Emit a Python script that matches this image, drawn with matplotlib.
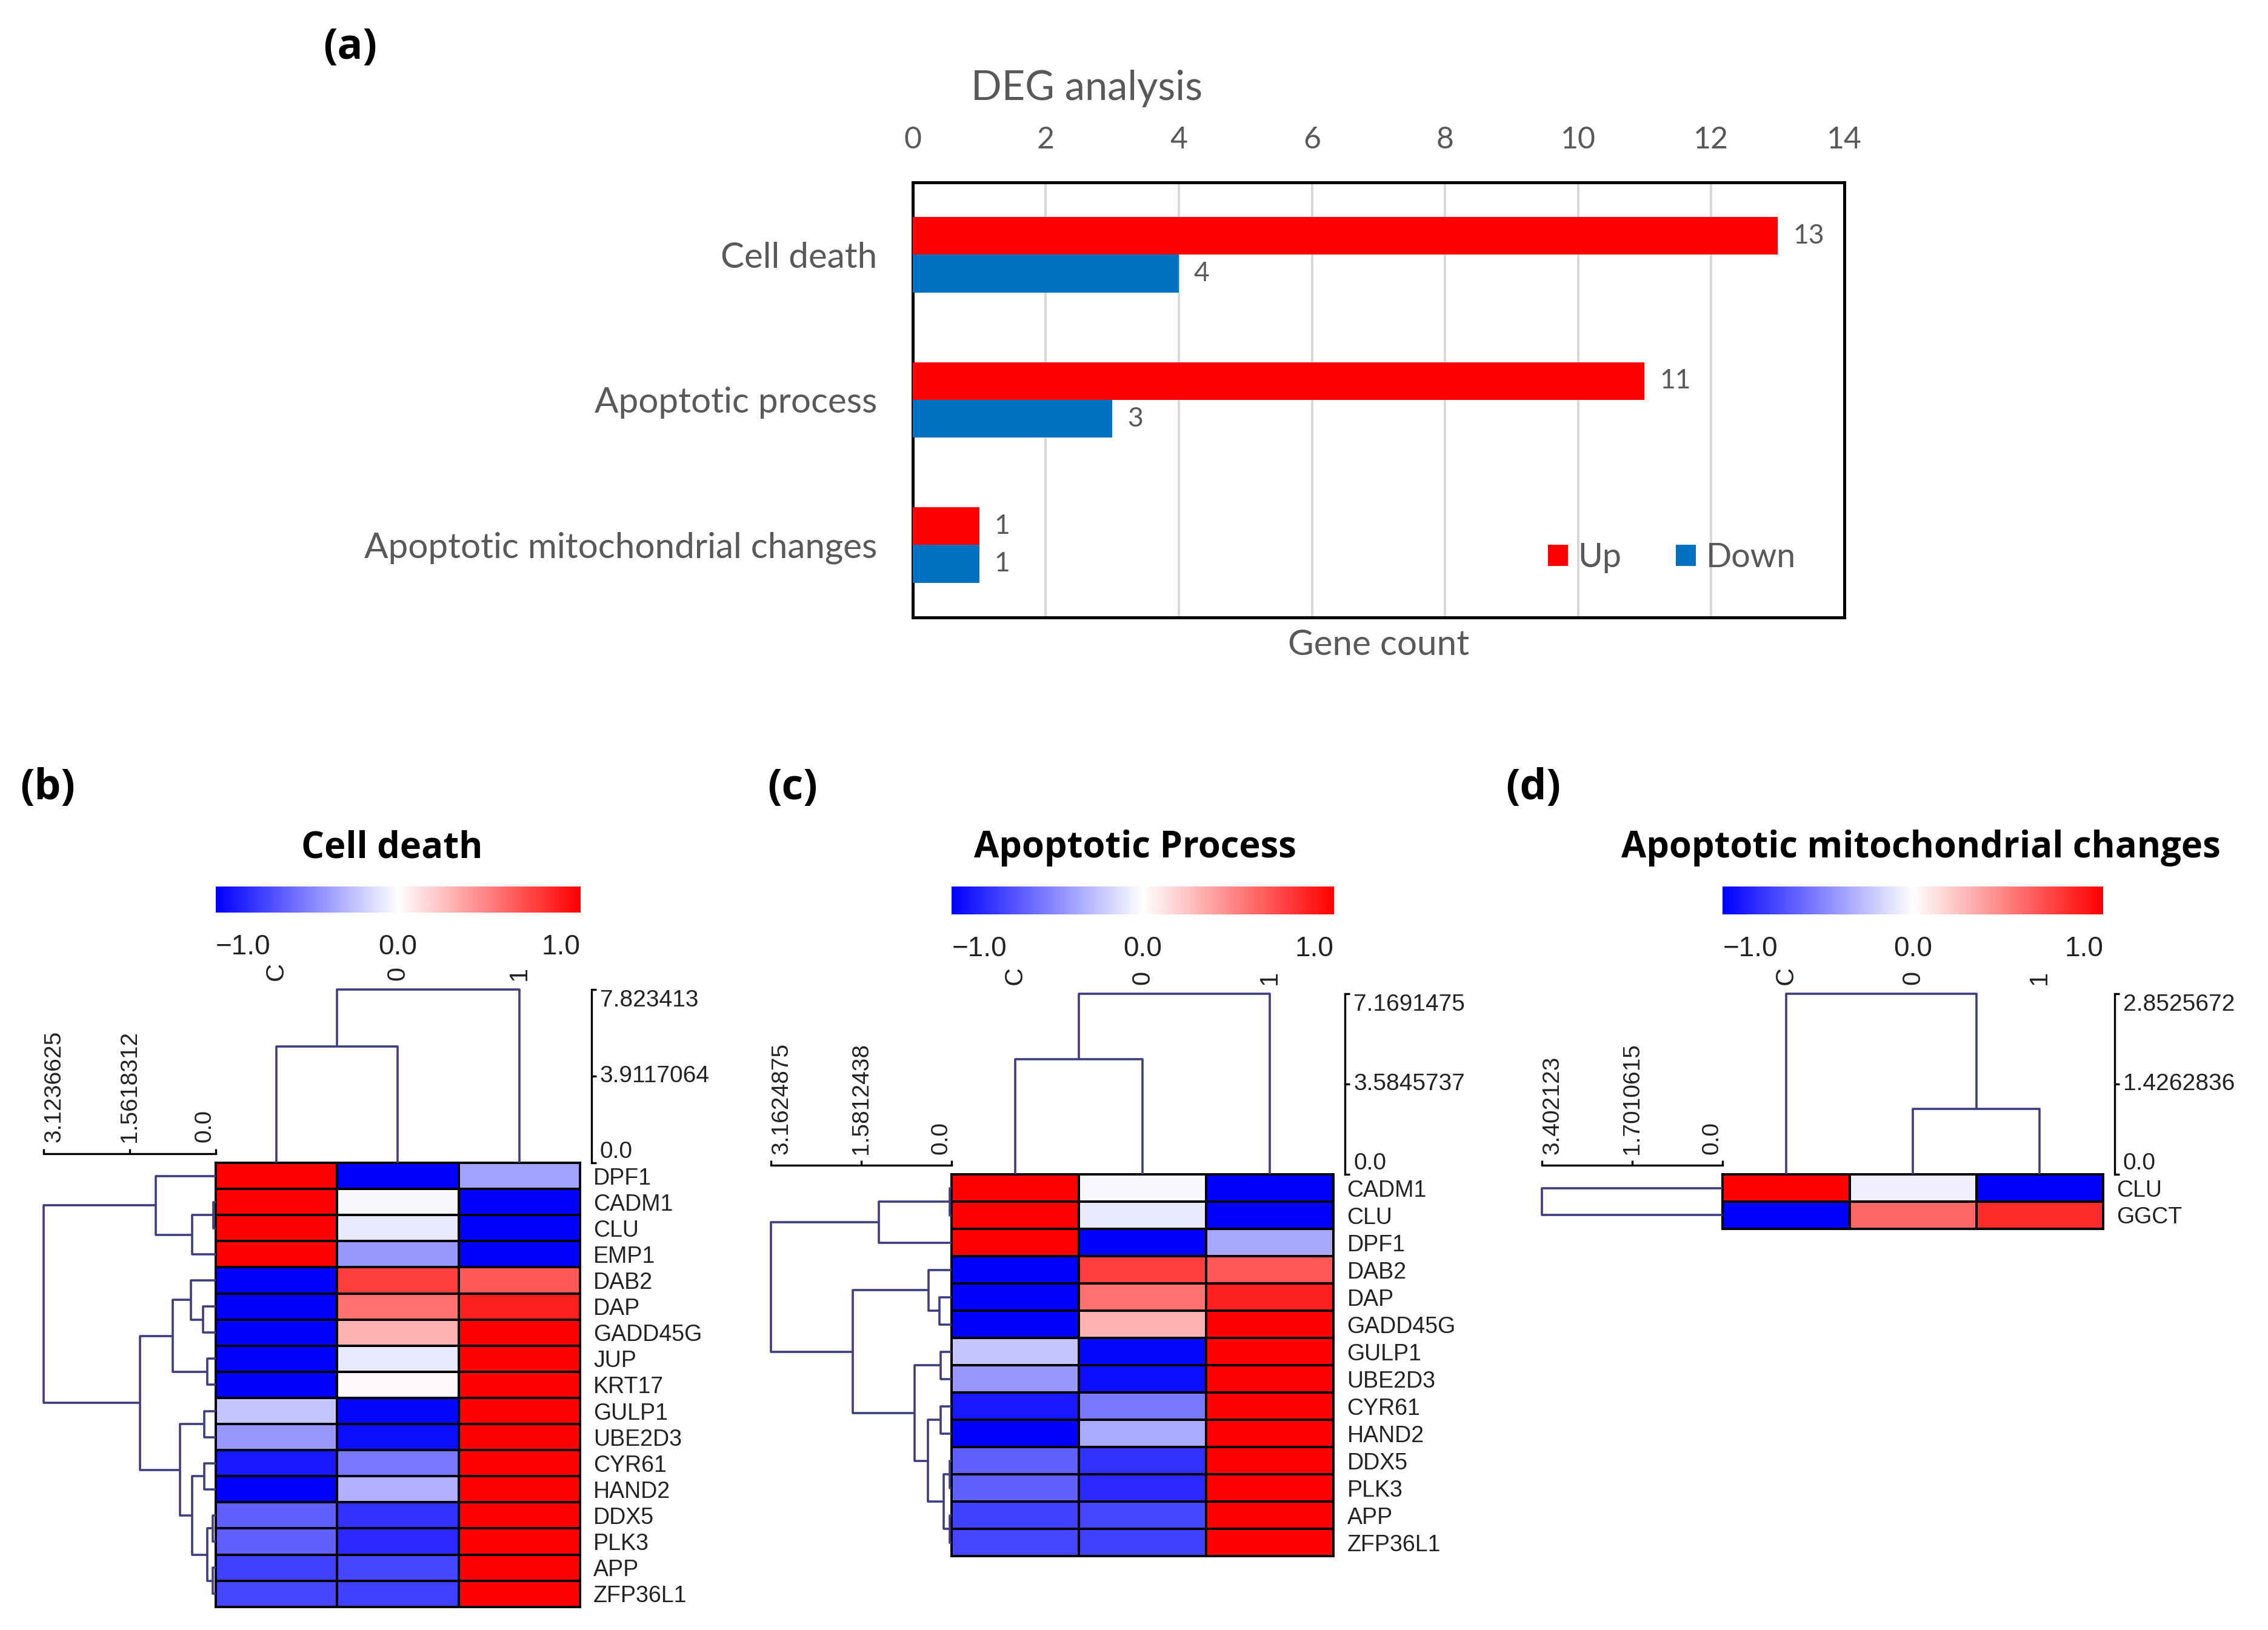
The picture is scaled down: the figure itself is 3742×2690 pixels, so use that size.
import numpy as np
import matplotlib
matplotlib.use("Agg")
import matplotlib.pyplot as plt
from matplotlib import font_manager
from matplotlib.colors import LinearSegmentedColormap
from matplotlib.transforms import blended_transform_factory

# ---------------- data ----------------
categories = ["Cell death", "Apoptotic process", "Apoptotic mitochondrial changes"]
up_counts = [13, 11, 1]
down_counts = [4, 3, 1]

samples = ["C", "0", "1"]

genes_b = ["DPF1", "CADM1", "CLU", "EMP1", "DAB2", "DAP", "GADD45G", "JUP", "KRT17",
           "GULP1", "UBE2D3", "CYR61", "HAND2", "DDX5", "PLK3", "APP", "ZFP36L1"]
values_b = [
    [1.0, -1.0, -0.36],
    [1.0, -0.03, -1.0],
    [1.0, -0.09, -1.0],
    [1.0, -0.40, -1.0],
    [-1.0, 0.75, 0.65],
    [-1.0, 0.56, 0.87],
    [-1.0, 0.31, 1.0],
    [-1.0, -0.09, 1.0],
    [-1.0, 0.02, 1.0],
    [-0.22, -0.97, 1.0],
    [-0.40, -0.95, 1.0],
    [-0.90, -0.53, 1.0],
    [-1.0, -0.31, 1.0],
    [-0.62, -0.81, 1.0],
    [-0.62, -0.84, 1.0],
    [-0.75, -0.72, 1.0],
    [-0.72, -0.75, 1.0],
]
row_tree_b = (("DPF1", (("CADM1", "CLU", 0.044), "EMP1", 0.42), 1.082),
              ((("DAB2", ("DAP", "GADD45G", 0.227), 0.447), ("JUP", "KRT17", 0.147), 0.777),
               (("GULP1", "UBE2D3", 0.2),
                (("CYR61", "HAND2", 0.2),
                 (("DDX5", "PLK3", 0.05), ("APP", "ZFP36L1", 0.05), 0.147), 0.42), 0.649), 1.375),
              3.1236625)
col_tree_b = (("C", "0", 5.24), "1", 7.823413)
row_scale_b = ["3.1236625", "1.5618312", "0.0"]
col_scale_b = ["0.0", "3.9117064", "7.823413"]

genes_c = ["CADM1", "CLU", "DPF1", "DAB2", "DAP", "GADD45G", "GULP1", "UBE2D3",
           "CYR61", "HAND2", "DDX5", "PLK3", "APP", "ZFP36L1"]
values_c = [
    [1.0, -0.03, -1.0],
    [1.0, -0.08, -1.0],
    [1.0, -1.0, -0.34],
    [-1.0, 0.75, 0.65],
    [-1.0, 0.56, 0.87],
    [-1.0, 0.31, 1.0],
    [-0.22, -0.97, 1.0],
    [-0.40, -0.95, 1.0],
    [-0.90, -0.53, 1.0],
    [-1.0, -0.33, 1.0],
    [-0.62, -0.81, 1.0],
    [-0.62, -0.84, 1.0],
    [-0.75, -0.72, 1.0],
    [-0.72, -0.75, 1.0],
]
row_tree_c = ((("CADM1", "CLU", 0.03), "DPF1", 1.28),
              (("DAB2", ("DAP", "GADD45G", 0.218), 0.41),
               (("GULP1", "UBE2D3", 0.197),
                (("CYR61", "HAND2", 0.197),
                 (("DDX5", "PLK3", 0.03), ("APP", "ZFP36L1", 0.03), 0.136), 0.42), 0.647), 1.726),
              3.1624875)
col_tree_c = (("C", "0", 4.58), "1", 7.1691475)
row_scale_c = ["3.1624875", "1.5812438", "0.0"]
col_scale_c = ["0.0", "3.5845737", "7.1691475"]

genes_d = ["CLU", "GGCT"]
values_d = [
    [1.0, -0.07, -1.0],
    [-1.0, 0.60, 0.83],
]
row_tree_d = ("CLU", "GGCT", 3.402123)
col_tree_d = ("C", ("0", "1", 1.03), 2.8525672)
row_scale_d = ["3.402123", "1.7010615", "0.0"]
col_scale_d = ["0.0", "1.4262836", "2.8525672"]

# ---------------- fonts / style ----------------
installed = {f.name for f in font_manager.fontManager.ttflist}


def pick(*names):
    for n in names:
        if n in installed:
            return n
    return "DejaVu Sans"


FONT_A = pick("Lato", "Noto Sans")
FONT_BOLD = pick("Open Sans", "Noto Sans")
FONT_NARROW = pick("Liberation Sans Narrow", "Liberation Sans")
FONT_CB = pick("Liberation Sans", "DejaVu Sans")
GRAY = "#595959"
DENDRO = "#3d3d80"

cmap = LinearSegmentedColormap.from_list("bwr_pure", ["#0000ff", "#ffffff", "#ff0000"])

W, H = 1568, 1127  # layout grid of the reference picture


def box(x0, y0, x1, y1):
    return [x0 / W, 1 - y1 / H, (x1 - x0) / W, (y1 - y0) / H]


fig = plt.figure(figsize=(18.71, 13.45), dpi=200)

# ---------------- (a) bar chart ----------------
ax = fig.add_axes(box(631, 126, 1275, 427))
y = np.arange(len(categories))
bh = 0.26
b_up = ax.barh(y - bh / 2, up_counts, height=bh, color="#ff0000", label="Up", zorder=3)
b_dn = ax.barh(y + bh / 2, down_counts, height=bh, color="#0070c0", label="Down", zorder=3)
ax.set_xlim(0, 14)
ax.set_ylim(2.5, -0.5)
ax.set_xticks(range(0, 15, 2))
ax.xaxis.tick_top()
ax.tick_params(axis="x", length=0, pad=17, labelsize=18, labelcolor=GRAY)
ax.set_yticks(y, categories)
ax.tick_params(axis="y", length=0, pad=21, labelsize=21, labelcolor=GRAY)
for lab in ax.get_xticklabels() + ax.get_yticklabels():
    lab.set_fontfamily(FONT_A)
ax.grid(axis="x", color="#d9d9d9", lw=1.4, zorder=0)
ax.set_axisbelow(True)
for sp in ax.spines.values():
    sp.set_linewidth(1.8)
    sp.set_color("black")
for bars, vals, yy in ((b_up, up_counts, y - bh / 2), (b_dn, down_counts, y + bh / 2)):
    for v, yc in zip(vals, yy):
        ax.annotate(str(v), (v, yc), xytext=(9, 0), textcoords="offset points",
                    va="center", ha="left", fontsize=16, color=GRAY, family=FONT_A)
leg = ax.legend(loc="center", bbox_to_anchor=(0.815, 0.137), ncol=2, frameon=False,
                prop={"family": FONT_A, "size": 20}, handlelength=0.6, handleheight=0.6,
                handletextpad=0.3, columnspacing=1.6, labelcolor=GRAY)
ax.text(0.187, 1 + 65 / 301, "DEG analysis", transform=ax.transAxes, ha="center",
        va="center", fontsize=24, color=GRAY, family=FONT_A)
ax.text(0.5, -19 / 301, "Gene count", transform=ax.transAxes, ha="center",
        va="center", fontsize=21, color=GRAY, family=FONT_A)
fig.text(242 / W, 1 - 33 / H, "(a)", ha="center", va="center", fontsize=25,
         weight="bold", family=FONT_BOLD)


# ---------------- heatmap panels ----------------
def draw_tree(axd, node, pos, orient):
    if isinstance(node, str):
        return pos[node], 0.0
    left, right, h = node
    p1, h1 = draw_tree(axd, left, pos, orient)
    p2, h2 = draw_tree(axd, right, pos, orient)
    ps, hs = [p1, p1, p2, p2], [h1, h, h, h2]
    if orient == "top":
        axd.plot(ps, hs, color=DENDRO, lw=1.3, clip_on=False, solid_capstyle="butt")
    else:
        axd.plot(hs, ps, color=DENDRO, lw=1.3, clip_on=False, solid_capstyle="butt")
    return (p1 + p2) / 2, h


def heat_panel(letter, letter_xy, title, title_x, genes, values, row_tree, col_tree,
               row_scale, col_scale, heat, col_top, row_left, cb):
    x0, y0, x1, y1 = heat
    n = len(genes)

    # heatmap
    axh = fig.add_axes(box(*heat))
    axh.pcolormesh(np.arange(len(samples) + 1), np.arange(n + 1), np.array(values),
                   cmap=cmap, vmin=-1, vmax=1, edgecolors="black", linewidth=1.4)
    axh.set_xlim(0, len(samples))
    axh.set_ylim(n, 0)
    axh.set_xticks([])
    axh.yaxis.tick_right()
    axh.set_yticks(np.arange(n) + 0.5, genes)
    axh.tick_params(axis="y", length=0, pad=8, labelsize=13.5, labelcolor="#222222")
    for lab in axh.get_yticklabels():
        lab.set_fontfamily(FONT_NARROW)
    for sp in axh.spines.values():
        sp.set_linewidth(1.4)

    # column dendrogram
    axc = fig.add_axes(box(x0, col_top, x1, y0))
    draw_tree(axc, col_tree, {s: i + 0.5 for i, s in enumerate(samples)}, "top")
    axc.set_xlim(0, len(samples))
    axc.set_ylim(0, col_tree[2])
    axc.axis("off")
    tr = blended_transform_factory(axc.transData, axc.transAxes)
    for i, s in enumerate(samples):
        axc.text(i + 0.5, 1 + 6 / (y0 - col_top), s, transform=tr, rotation=90,
                 ha="center", va="bottom", fontsize=15, family=FONT_NARROW, color="#222222")

    # column scale
    axcs = fig.add_axes(box(x1 + 5, col_top, x1 + 8, y0))
    axcs.set_ylim(0, col_tree[2])
    axcs.set_xticks([])
    for k in ("left", "top", "bottom"):
        axcs.spines[k].set_visible(False)
    axcs.spines["right"].set_linewidth(1.2)
    axcs.yaxis.tick_right()
    axcs.set_yticks([0, col_tree[2] / 2, col_tree[2]], col_scale)
    axcs.tick_params(axis="y", direction="out", length=3, width=1.2, pad=2,
                     labelsize=14, labelcolor="#222222")
    yl = axcs.get_yticklabels()
    for lab, va in zip(yl, ("bottom", "center", "top")):
        lab.set_fontfamily(FONT_NARROW)
        lab.set_va(va)

    # row dendrogram
    axr = fig.add_axes(box(row_left, y0, x0, y1))
    draw_tree(axr, row_tree, {g: i + 0.5 for i, g in enumerate(genes)}, "left")
    axr.set_xlim(row_tree[2], 0)
    axr.set_ylim(n, 0)
    axr.axis("off")

    # row scale
    axrs = fig.add_axes(box(row_left, y0 - 6.5, x0, y0 - 3.5))
    axrs.set_xlim(row_tree[2], 0)
    axrs.set_yticks([])
    for k in ("left", "right", "bottom"):
        axrs.spines[k].set_visible(False)
    axrs.spines["top"].set_linewidth(1.2)
    axrs.xaxis.tick_top()
    axrs.set_xticks([row_tree[2], row_tree[2] / 2, 0], row_scale)
    axrs.tick_params(axis="x", direction="out", length=3, width=1.2, pad=3.5,
                     labelsize=14, labelcolor="#222222", labelrotation=90)
    xl = axrs.get_xticklabels()
    for lab, ha in zip(xl, ("left", "center", "right")):
        lab.set_fontfamily(FONT_NARROW)
        lab.set_ha(ha)

    # colour key
    cx0, cy0, cx1, cy1 = cb
    axk = fig.add_axes(box(*cb))
    axk.imshow(np.linspace(-1, 1, 512)[None, :], cmap=cmap, vmin=-1, vmax=1,
               aspect="auto", extent=(-1, 1, 0, 1))
    axk.set_xlim(-1, 1)
    axk.axis("off")
    trk = blended_transform_factory(axk.transData, axk.transAxes)
    ylab = -24 / (cy1 - cy0)
    for v, txt, ha in ((-1, "\u22121.0", "left"), (0, "0.0", "center"), (1, "1.0", "right")):
        axk.text(v, ylab, txt, transform=trk, ha=ha, va="center", fontsize=16.5,
                 family=FONT_CB, color="#222222")

    fig.text(title_x / W, 1 - 593 / H, title, ha="center", va="baseline", fontsize=21.5,
             weight="bold", family=FONT_BOLD)
    fig.text(letter_xy[0] / W, 1 - letter_xy[1] / H, letter, ha="center", va="center",
             fontsize=25, weight="bold", family=FONT_BOLD)


heat_panel("(b)", (33, 545), "Cell death", 271, genes_b, values_b, row_tree_b, col_tree_b,
           row_scale_b, col_scale_b, (149, 804, 401, 1111), 684, 30, (149, 613, 401, 631))
heat_panel("(c)", (548, 545), "Apoptotic Process", 785, genes_c, values_c, row_tree_c,
           col_tree_c, row_scale_c, col_scale_c, (658, 812, 922, 1076), 687, 533,
           (658, 613, 922, 632))
heat_panel("(d)", (1060, 545), "Apoptotic mitochondrial changes", 1328, genes_d, values_d,
           row_tree_d, col_tree_d, row_scale_d, col_scale_d, (1191, 812, 1454, 849.5), 687,
           1066, (1191, 613, 1454, 632))

fig.savefig("out.png", dpi=200, facecolor="white")
